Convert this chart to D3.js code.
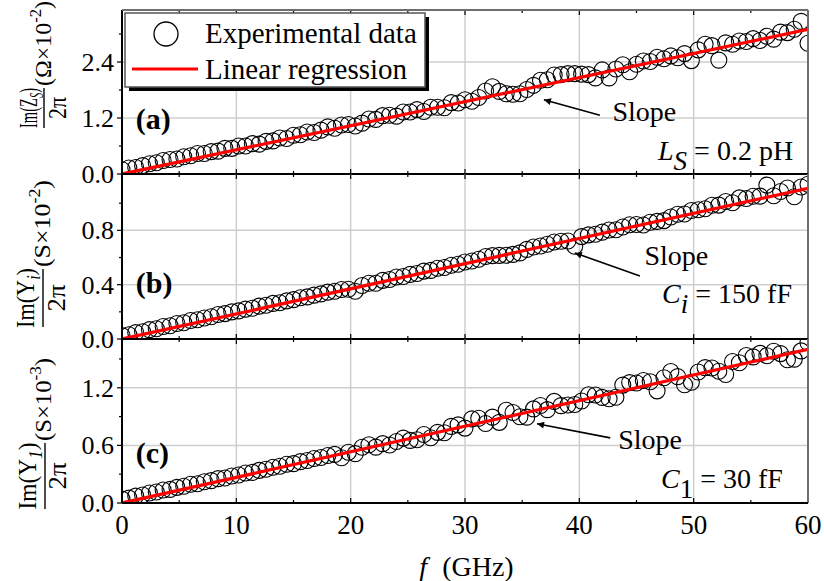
<!DOCTYPE html>
<html><head><meta charset="utf-8">
<script src="https://cdn.jsdelivr.net/npm/d3@7"></script>
<style>
body{margin:0;background:#fff}
text{font-family:"Liberation Serif","Times New Roman",serif;fill:#000}
</style>
</head><body><svg id="chart" width="824" height="581"></svg>
<script>
// Sampled frequencies (GHz)
const freqGHz = [0,0.6,1.2,1.8,2.4,3,3.6,4.2,4.8,5.4,6,6.6,7.2,7.8,8.4,9,9.6,10.2,10.8,11.4,12,12.6,13.2,13.8,14.4,15,15.6,16.2,16.8,17.4,18,18.6,19.2,19.8,20.4,21,21.6,22.2,22.8,23.4,24,24.6,25.2,25.8,26.4,27,27.6,28.2,28.8,29.4,30,30.6,31.2,31.8,32.4,33,33.6,34.2,34.8,35.4,36,36.6,37.2,37.8,38.4,39,39.6,40.2,40.8,41.4,42,42.6,43.2,43.8,44.4,45,45.6,46.2,46.8,47.4,48,48.6,49.2,49.8,50.4,51,51.6,52.2,52.8,53.4,54,54.6,55.2,55.8,56.4,57,57.6,58.2,58.8,59.4,60];

// Im(Zs)/2π  (Ω×10^-2)
const imZs = [0.09,0.13,0.14,0.18,0.22,0.24,0.29,0.31,0.32,0.37,0.39,0.44,0.44,0.48,0.49,0.55,0.55,0.60,0.60,0.65,0.64,0.70,0.71,0.77,0.76,0.83,0.84,0.90,0.89,0.94,1.01,0.98,1.05,1.06,1.03,1.09,1.18,1.17,1.25,1.26,1.24,1.33,1.33,1.38,1.34,1.43,1.43,1.42,1.53,1.52,1.59,1.56,1.64,1.78,1.87,1.77,1.72,1.71,1.72,1.81,1.90,2.01,2.02,2.12,2.13,2.15,2.15,2.14,2.13,2.06,2.23,2.06,2.25,2.34,2.19,2.35,2.42,2.41,2.50,2.47,2.53,2.49,2.58,2.43,2.66,2.78,2.75,2.44,2.81,2.78,2.85,2.84,2.90,2.86,2.95,2.89,3.04,3.03,3.10,3.27,2.80];

// Im(Yi)/2π  (S×10^-2)
const imYi = [0.025,0.031,0.047,0.053,0.069,0.076,0.092,0.098,0.114,0.120,0.136,0.142,0.155,0.164,0.180,0.187,0.200,0.207,0.220,0.226,0.242,0.248,0.262,0.267,0.281,0.290,0.304,0.310,0.323,0.332,0.345,0.352,0.365,0.366,0.352,0.394,0.410,0.411,0.432,0.438,0.456,0.460,0.476,0.482,0.500,0.505,0.521,0.527,0.543,0.550,0.567,0.574,0.587,0.608,0.614,0.616,0.617,0.623,0.634,0.660,0.678,0.685,0.698,0.714,0.720,0.722,0.683,0.754,0.767,0.771,0.787,0.803,0.804,0.825,0.841,0.843,0.839,0.860,0.866,0.872,0.898,0.919,0.920,0.946,0.952,0.959,0.985,0.986,1.012,1.003,1.039,1.035,1.051,1.052,1.133,1.055,1.086,1.112,1.048,1.119,1.140];

// Im(Y1)/2π  (S×10^-3)
const imY1 = [0.040,0.051,0.072,0.083,0.104,0.115,0.136,0.142,0.163,0.174,0.195,0.201,0.222,0.233,0.254,0.260,0.281,0.292,0.313,0.319,0.340,0.351,0.372,0.383,0.404,0.410,0.431,0.442,0.463,0.474,0.495,0.506,0.472,0.528,0.514,0.580,0.606,0.582,0.618,0.604,0.640,0.676,0.652,0.658,0.714,0.680,0.736,0.732,0.798,0.814,0.780,0.876,0.882,0.828,0.894,0.840,0.966,0.942,0.898,0.894,0.980,1.016,0.972,1.058,1.014,1.020,1.026,1.062,1.128,1.124,1.100,1.086,1.102,1.228,1.254,1.250,1.276,1.262,1.168,1.304,1.370,1.316,1.232,1.258,1.364,1.410,1.406,1.372,1.338,1.474,1.460,1.536,1.522,1.558,1.534,1.580,1.556,1.492,1.498,1.584,1.670];

// Linear-regression end points at 0 and 60 GHz
const fitFreq = [0, 60];
const fitZs = [0, 3.10];
const fitYi = [0, 1.11];
const fitY1 = [0, 1.60];

// Tick values
const xTicks = [0,10,20,30,40,50,60];
const xMinor = [5,15,25,35,45,55];
const yTicksA = [0.0,1.2,2.4], yMinorA = [0.6,1.8,3.0];
const yTicksB = [0.0,0.4,0.8], yMinorB = [0.2,0.6,1.0];
const yTicksC = [0.0,0.6,1.2], yMinorC = [0.3,0.9,1.5];

const svg = d3.select("#chart");
const L = 122, R = 808;
const x = d3.scaleLinear().domain([0,60]).range([L,R]);

const panels = [
  {id:"a", top:10,  bottom:174, ymax:3.514, vals:imZs, fit:fitZs, ticks:yTicksA, minor:yMinorA,
   tag:"(a)", tagAt:[1.2,0.96], slopeText:[42.9,1.13], arrow:[[41.8,1.26],[36.9,1.59]],
   param:{at:[58.7,0.30], sym:"L", sub:"S", subItalic:true, rest:" = 0.2 pH"},
   ylab:{cy:108, bar:44, half:20, numLen:40, denLen:22, unitLen:85, numY:-7, denY:22, unitY:7,
         num:"Im(Z", numSub:"S", unit:"(Ω×10", exp:"-2"}},
  {id:"b", top:174, bottom:339, ymax:1.215, vals:imYi, fit:fitYi, ticks:yTicksB, minor:yMinorB,
   tag:"(b)", tagAt:[1.2,0.339], slopeText:[45.7,0.545], arrow:[[45.3,0.464],[39.6,0.634]],
   param:{at:[58.6,0.265], sym:"C", sub:"i", subItalic:true, rest:" = 150 fF"},
   ylab:{cy:298, bar:43, half:29, numLen:60, denLen:27, unitLen:87, numY:-9, denY:22, unitY:7,
         num:"Im(Y", numSub:"i", unit:"(S×10", exp:"-2"}},
  {id:"c", top:339, bottom:503, ymax:1.708, vals:imY1, fit:fitY1, ticks:yTicksC, minor:yMinorC,
   tag:"(c)", tagAt:[1.2,0.418], slopeText:[43.4,0.564], arrow:[[42.7,0.678],[36.3,0.825]],
   param:{at:[57.8,0.157], sym:"C", sub:"1", subItalic:false, rest:" = 30 fF"},
   ylab:{cy:476, bar:45, half:33, numLen:67, denLen:27, unitLen:83, numY:-9, denY:21, unitY:6,
         num:"Im(Y", numSub:"1", unit:"(S×10", exp:"-3"}}
];

const defs = svg.append("defs");
defs.append("marker").attr("id","arrowhead").attr("viewBox","0 0 10 10")
  .attr("refX",10).attr("refY",5).attr("markerWidth",10).attr("markerHeight",7)
  .attr("markerUnits","userSpaceOnUse").attr("orient","auto")
  .append("path").attr("d","M0,0L10,5L0,10z").attr("fill","#000");

panels.forEach(p => {
  const y = d3.scaleLinear().domain([0,p.ymax]).range([p.bottom,p.top]);
  const g = svg.append("g");
  defs.append("clipPath").attr("id","clip-"+p.id).append("rect")
    .attr("x",L).attr("y",p.top).attr("width",R-L).attr("height",p.bottom-p.top);

  // grid
  g.selectAll(".gx").data(xTicks.slice(1,-1)).join("line")
    .attr("x1",d=>x(d)).attr("x2",d=>x(d)).attr("y1",p.top).attr("y2",p.bottom)
    .attr("stroke","#cfcfcf").attr("stroke-width",1.5);
  g.selectAll(".gy").data(p.ticks.slice(1)).join("line")
    .attr("x1",L).attr("x2",R).attr("y1",d=>y(d)).attr("y2",d=>y(d))
    .attr("stroke","#cfcfcf").attr("stroke-width",1.5);

  // data circles and regression line
  const plot = g.append("g").attr("clip-path","url(#clip-"+p.id+")");
  plot.selectAll("circle").data(p.vals).join("circle")
    .attr("cx",(d,i)=>x(freqGHz[i])).attr("cy",d=>y(d)).attr("r",8)
    .attr("fill","none").attr("stroke","#000").attr("stroke-width",1.1);
  plot.append("path").datum(fitFreq.map((f,i)=>[f,p.fit[i]]))
    .attr("d",d3.line().x(d=>x(d[0])).y(d=>y(d[1])))
    .attr("stroke","#ff0000").attr("stroke-width",3.2).attr("fill","none");

  // x ticks (inward, top and bottom)
  const xt = [...xTicks.map(v=>[v,5]), ...xMinor.map(v=>[v,3])];
  g.selectAll(".xtb").data(xt).join("line")
    .attr("x1",d=>x(d[0])).attr("x2",d=>x(d[0])).attr("y1",p.bottom).attr("y2",d=>p.bottom-d[1])
    .attr("stroke","#000").attr("stroke-width",1.2);
  g.selectAll(".xtt").data(xt).join("line")
    .attr("x1",d=>x(d[0])).attr("x2",d=>x(d[0])).attr("y1",p.top).attr("y2",d=>p.top+d[1])
    .attr("stroke","#000").attr("stroke-width",1.2);

  // y ticks (outward)
  const yt = [...p.ticks.map(v=>[v,5]), ...p.minor.map(v=>[v,3])];
  g.selectAll(".yt").data(yt).join("line")
    .attr("x1",L).attr("x2",d=>L-d[1]).attr("y1",d=>y(d[0])).attr("y2",d=>y(d[0]))
    .attr("stroke","#000").attr("stroke-width",1.2);
  g.selectAll(".ytl").data(p.ticks).join("text")
    .attr("x",L-8).attr("y",d=>y(d)).attr("dy","0.35em").attr("text-anchor","end")
    .attr("font-size",26).text(d=>d.toFixed(1));

  // frame
  g.append("line").attr("x1",R).attr("x2",R).attr("y1",p.top).attr("y2",p.bottom)
    .attr("stroke","#6e6e6e").attr("stroke-width",2);
  g.append("line").attr("x1",L).attr("x2",L).attr("y1",p.top).attr("y2",p.bottom)
    .attr("stroke","#000").attr("stroke-width",2);
  g.append("line").attr("x1",L).attr("x2",R).attr("y1",p.bottom).attr("y2",p.bottom)
    .attr("stroke","#000").attr("stroke-width",2);
  if (p.id === "a") g.append("line").attr("x1",L).attr("x2",R).attr("y1",p.top).attr("y2",p.top)
    .attr("stroke","#6e6e6e").attr("stroke-width",2);

  // panel tag
  g.append("text").attr("x",x(p.tagAt[0])).attr("y",y(p.tagAt[1]))
    .attr("font-size",30).attr("font-weight","bold").text(p.tag);

  // slope annotation
  g.append("line").attr("x1",x(p.arrow[0][0])).attr("y1",y(p.arrow[0][1]))
    .attr("x2",x(p.arrow[1][0])).attr("y2",y(p.arrow[1][1]))
    .attr("stroke","#000").attr("stroke-width",1.6).attr("marker-end","url(#arrowhead)");
  g.append("text").attr("x",x(p.slopeText[0])).attr("y",y(p.slopeText[1]))
    .attr("font-size",28).text("Slope");

  // extracted parameter
  const pt = g.append("text").attr("x",x(p.param.at[0])).attr("y",y(p.param.at[1]))
    .attr("text-anchor","end").attr("font-size",28);
  pt.append("tspan").attr("font-style","italic").text(p.param.sym);
  pt.append("tspan").attr("font-style",p.param.subItalic?"italic":"normal")
    .attr("dy",10).attr("font-size",27).text(p.param.sub);
  pt.append("tspan").attr("dy",-10).text(p.param.rest);

  // rotated y label: fraction Im(..)/2π followed by units
  const q = p.ylab;
  const yl = svg.append("g").attr("transform",`translate(${q.bar},${q.cy}) rotate(-90)`);
  const num = yl.append("text").attr("x",-q.numLen/2).attr("y",q.numY).attr("font-size",25)
    .attr("textLength",q.numLen).attr("lengthAdjust","spacingAndGlyphs");
  num.append("tspan").text(q.num);
  num.append("tspan").attr("font-style","italic").attr("font-size",18).attr("dy",6).text(q.numSub);
  num.append("tspan").attr("dy",-6).text(")");
  yl.append("line").attr("x1",-q.half).attr("x2",q.half).attr("y1",0).attr("y2",0)
    .attr("stroke","#000").attr("stroke-width",1.4);
  yl.append("text").attr("x",-q.denLen/2).attr("y",q.denY).attr("font-size",25)
    .attr("textLength",q.denLen).attr("lengthAdjust","spacingAndGlyphs").text("2π");
  const un = yl.append("text").attr("x",q.half+2).attr("y",q.unitY).attr("font-size",23)
    .attr("textLength",q.unitLen).attr("lengthAdjust","spacingAndGlyphs");
  un.append("tspan").text(q.unit);
  un.append("tspan").attr("font-size",16).attr("dy",-10).text(q.exp);
  un.append("tspan").attr("dy",10).text(")");
});

// x tick labels and title
const xb = panels[2].bottom;
svg.selectAll(".xl").data(xTicks).join("text")
  .attr("x",d=>x(d)).attr("y",xb+31).attr("text-anchor","middle").attr("font-size",27).text(d=>d);
svg.append("text").attr("x",x(26)).attr("y",576).attr("font-size",28)
  .attr("font-style","italic").text("f");
svg.append("text").attr("x",x(28)).attr("y",576).attr("font-size",28).text("(GHz)");

// legend
const lg = svg.append("g");
lg.append("rect").attr("x",129).attr("y",17).attr("width",300).attr("height",74).attr("fill","#000");
lg.append("rect").attr("x",125).attr("y",13).attr("width",300).attr("height",74)
  .attr("fill","#fff").attr("stroke","#555").attr("stroke-width",1.5);
lg.append("circle").attr("cx",166).attr("cy",34).attr("r",12).attr("fill","none")
  .attr("stroke","#000").attr("stroke-width",1.3);
lg.append("line").attr("x1",132).attr("x2",198).attr("y1",69).attr("y2",69)
  .attr("stroke","#ff0000").attr("stroke-width",3);
lg.append("text").attr("x",205).attr("y",43).attr("font-size",29).text("Experimental data");
lg.append("text").attr("x",205).attr("y",79).attr("font-size",29).text("Linear regression");
</script></body></html>
